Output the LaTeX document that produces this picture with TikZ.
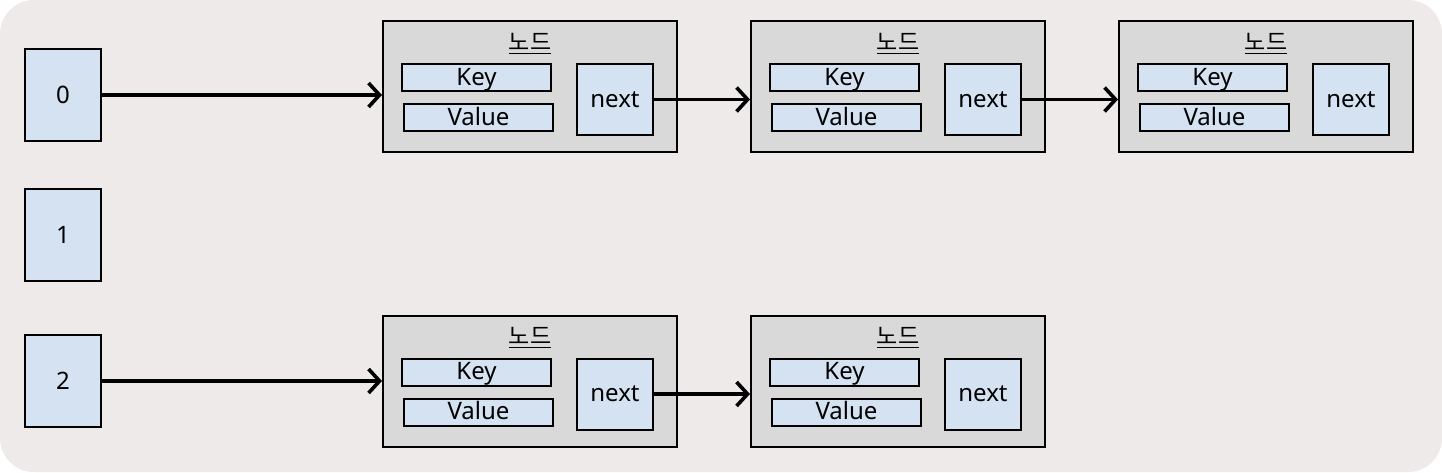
\documentclass[tikz,border=0pt]{standalone}
\usepackage{fontspec}
\setmainfont{Noto Sans}
\newfontfamily\krfont{Noto Sans CJK KR}
\usetikzlibrary{arrows.meta}
\definecolor{bgc}{HTML}{EEEAE9}
\definecolor{boxblue}{HTML}{D4E2F1}
\definecolor{boxgrey}{HTML}{D9D9D9}
\tikzset{
  idx/.style={draw=black, line width=1pt, fill=boxblue, minimum width=38pt, minimum height=46pt, inner sep=0pt, font=\fontsize{12}{14}\selectfont},
  cont/.style={draw=black, line width=1pt, fill=boxgrey, minimum width=147pt, minimum height=65.5pt, inner sep=0pt},
  fld/.style={draw=black, line width=1pt, fill=boxblue, minimum width=74.5pt, minimum height=13.5pt, inner sep=0pt, text height=10pt, text depth=2.3pt, font=\fontsize{12}{14}\selectfont},
  nxt/.style={draw=black, line width=1pt, fill=boxblue, minimum width=38pt, minimum height=35.5pt, inner sep=0pt, font=\fontsize{12}{14}\selectfont},
  ttl/.style={inner sep=0pt, font=\krfont\fontsize{11.5}{13}\selectfont},
  arr/.style={line width=1.8pt, -{Straight Barb[length=5.5pt,width=12pt,line width=1.8pt]}}
}
\newcommand{\llnode}[3]{%
  \node[cont] (#1) at (#2,#3) {};
  \node[ttl] (#1t) at ([shift={(0,-43)}]#1.center) {\underline{노드}};
  \node[fld] (#1k) at ([shift={(-53.5,-9)}]#1.center) {Key};
  \node[fld] (#1v) at ([shift={(-51.5,31)}]#1.center) {Value};
  \node[nxt] (#1n) at ([shift={(85,13)}]#1.center) {next};
}
\begin{document}
\begin{tikzpicture}[x=0.5pt,y=-0.5pt]
\useasboundingbox (0,0) rectangle (1442,472);
\fill[white] (0,0) rectangle (1442,472);
\fill[bgc, rounded corners=17pt] (0,0) rectangle (1442,472);
% index boxes
\node[idx] (i0) at (63,95) {0};
\node[idx] (i1) at (63,235) {1};
\node[idx] (i2) at (63,381) {2};
% linked nodes
\llnode{a}{530}{86.5}
\llnode{b}{898}{86.5}
\llnode{c}{1266}{86.5}
\llnode{d}{530}{381}
\llnode{e}{898}{381}
% connectors
\draw[arr] (i0.east) -- (i0.east -| a.west);
\draw[arr] (an.east) -- (an.east -| b.west);
\draw[arr] (bn.east) -- (bn.east -| c.west);
\draw[arr] (i2.east) -- (i2.east -| d.west);
\draw[arr] (dn.east) -- (dn.east -| e.west);
\end{tikzpicture}
\end{document}
